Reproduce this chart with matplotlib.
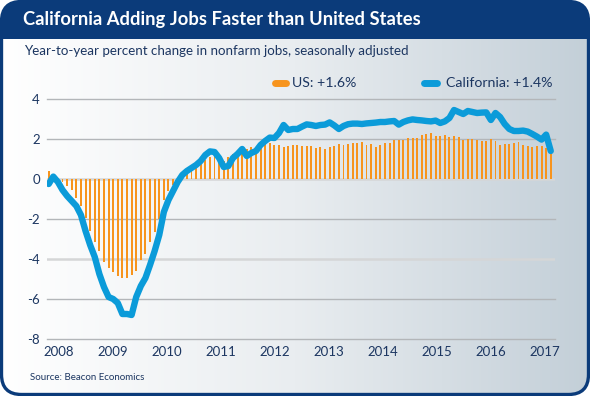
import numpy as np
import matplotlib.pyplot as plt
from matplotlib.patches import FancyBboxPatch, Rectangle
from matplotlib.colors import LinearSegmentedColormap

# year-over-year % change in nonfarm jobs, one value per month
us = [0.4, 0.0, -0.05, -0.15, -0.35, -0.55, -0.95, -1.35, -1.95, -2.6,
      -3.15, -3.6, -4.15, -4.45, -4.65, -4.85, -4.95, -4.95, -4.8, -4.6,
      -4.05, -3.75, -3.15, -2.65, -2.0, -1.05, -0.6, -0.3, -0.1, 0.15,
      0.3, 0.45, 0.6, 0.75, 0.95, 1.1, 1.2, 1.0, 0.9, 1.1,
      1.25, 1.4, 1.5, 1.5, 1.58, 1.55, 1.8, 1.85, 1.8, 1.7,
      1.7, 1.6, 1.65, 1.7, 1.7, 1.65, 1.65, 1.65, 1.55, 1.6,
      1.5, 1.6, 1.67, 1.73, 1.7, 1.77, 1.78, 1.8, 1.87, 1.7,
      1.73, 1.6, 1.7, 1.82, 1.82, 1.95, 1.96, 1.96, 2.03, 2.03,
      2.07, 2.2, 2.25, 2.32, 2.15, 2.13, 2.2, 2.08, 2.13, 2.08,
      1.97, 1.98, 1.98, 1.96, 1.9, 1.88, 1.98, 1.9, 1.7, 1.75,
      1.75, 1.78, 1.87, 1.72, 1.65, 1.6, 1.65, 1.65, 1.55, 1.35]
ca = [-0.25, 0.12, -0.15, -0.55, -0.85, -1.1, -1.35, -1.8, -2.6, -3.3,
      -3.9, -4.75, -5.4, -5.9, -6.0, -6.2, -6.75, -6.75, -6.8, -5.9,
      -5.35, -4.95, -4.3, -3.6, -2.8, -1.65, -1.05, -0.6, -0.15, 0.2,
      0.4, 0.55, 0.7, 0.9, 1.2, 1.38, 1.35, 1.05, 0.6, 0.65,
      1.05, 1.25, 1.5, 1.15, 1.3, 1.4, 1.7, 1.9, 2.07, 2.05,
      2.3, 2.7, 2.45, 2.5, 2.5, 2.62, 2.73, 2.7, 2.65, 2.7,
      2.72, 2.83, 2.68, 2.5, 2.65, 2.74, 2.77, 2.77, 2.75, 2.78,
      2.8, 2.82, 2.85, 2.85, 2.88, 2.9, 2.72, 2.85, 2.93, 2.98,
      2.95, 2.93, 2.9, 2.88, 2.92, 2.8, 2.88, 3.05, 3.45, 3.35,
      3.25, 3.4, 3.35, 3.3, 3.32, 3.33, 2.95, 3.3, 3.1, 2.75,
      2.5, 2.4, 2.4, 2.42, 2.37, 2.25, 2.12, 1.97, 2.22, 1.4]
years = ['2008', '2009', '2010', '2011', '2012', '2013', '2014', '2015', '2016', '2017']

NAVY = '#0b3b7a'
TXT = '#1c3661'
ORANGE = '#f7941d'
BLUE = '#0b9bd9'
reg = ['Lato', 'DejaVu Sans']

W, H = 590, 396
fig = plt.figure(figsize=(W / 100, H / 100), dpi=100)

# background layer in pixel coordinates
bg = fig.add_axes([0, 0, 1, 1])
bg.axis('off')
frame = FancyBboxPatch((1.5, 1.5), W - 3, H - 3, boxstyle='round,pad=0,rounding_size=20',
                       fc='none', ec=NAVY, lw=2.4, zorder=5)
bg.add_patch(frame)
cmap = LinearSegmentedColormap.from_list('bgc', ['#ffffff', '#e9edf0', '#c3cfd8'])
img = bg.imshow(np.linspace(0, 1, 256)[None, :], extent=[0, W, H, 0], cmap=cmap,
                aspect='auto', zorder=0)
img.set_clip_path(frame)
header = Rectangle((0, 0), W, 39, fc=NAVY, ec='none', zorder=1)
bg.add_patch(header)
header.set_clip_path(frame)
bg.set_xlim(0, W)
bg.set_ylim(H, 0)

bg.text(23, 20, 'California Adding Jobs Faster than United States', color='white',
        fontsize=13.2, fontweight='bold', family=reg, va='center', zorder=6)
bg.text(24, 51, 'Year-to-year percent change in nonfarm jobs, seasonally adjusted',
        color=TXT, fontsize=9.6, family=reg, va='center')
bg.text(30, 378, 'Source: Beacon Economics', color=TXT, fontsize=7, family=reg, va='center')

# legend
bg.plot([275, 286], [83, 83], color=ORANGE, lw=5, solid_capstyle='round')
bg.text(292, 83, 'US: +1.6%', color=TXT, fontsize=10.2, family=reg, va='center')
bg.plot([424, 437], [83, 83], color=BLUE, lw=5, solid_capstyle='round')
bg.text(446, 83, 'California: +1.4%', color=TXT, fontsize=10.2, family=reg, va='center')

# chart
x0, step = 48.7, 4.606
ax = fig.add_axes([47 / W, 1 - 339 / H, 508 / W, 240 / H])
ax.patch.set_visible(False)
idx = np.arange(len(us))
ax.set_xlim((47 - x0) / step, (555 - x0) / step)
ax.set_ylim(-8, 4)
for y in [4, 2, -2, -6, -8]:
    ax.axhline(y, color='#b3b6b9', lw=1.0, zorder=1, clip_on=False)
for y in [0, -4]:
    ax.axhline(y, color='#d5d6d7', lw=1.8, zorder=1)
ax.bar(idx, us, width=0.42, color=ORANGE, zorder=2)
ax.plot(idx, ca, color=BLUE, lw=4.6, solid_joinstyle='round', solid_capstyle='round', zorder=3)

for s in ax.spines.values():
    s.set_visible(False)
ax.set_yticks(range(-8, 5, 2))
ax.set_yticklabels([str(v) for v in range(-8, 5, 2)])
year_pos = [(58.3 + 54.03 * k - x0) / step for k in range(len(years))]
ax.set_xticks(year_pos)
ax.set_xticklabels(years)
ax.tick_params(length=0, colors=TXT, labelsize=9.5, pad=5)
for lab in ax.get_xticklabels() + ax.get_yticklabels():
    lab.set_family(reg)

fig.savefig('out.png', dpi=100)
